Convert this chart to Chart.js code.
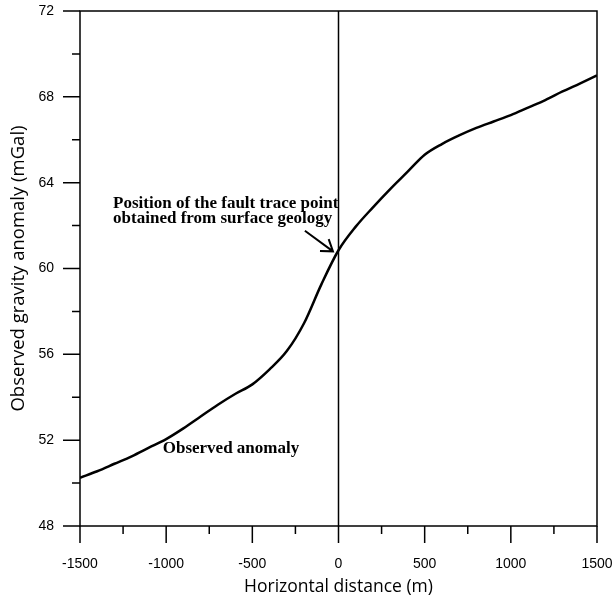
<!DOCTYPE html>
<html>
<head>
<meta charset="utf-8">
<script src="https://cdn.jsdelivr.net/npm/chart.js@4.4.1/dist/chart.umd.min.js"></script>
<style>
  html, body { margin: 0; padding: 0; background: #fff; }
  #wrap { width: 613px; height: 599px; }
</style>
</head>
<body>
<div id="wrap"><canvas id="chart"></canvas></div>
<script>
// horizontal distance (m) and observed gravity anomaly (mGal)
const distance = [-1500, -1400, -1300, -1200, -1100, -1000, -900, -800, -700, -600, -500,
  -400, -300, -200, -100, 0, 100, 200, 300, 400, 500, 600, 700, 800, 900, 1000,
  1100, 1200, 1300, 1400, 1500];
const anomaly = [50.25, 50.55, 50.9, 51.25, 51.65, 52.05, 52.55, 53.1, 53.65, 54.15, 54.6,
  55.3, 56.15, 57.45, 59.25, 60.85, 61.95, 62.85, 63.7, 64.5, 65.3, 65.8, 66.2, 66.55, 66.85, 67.15,
  67.5, 67.85, 68.25, 68.62, 69.0];

const faultX = 0;
const yRange = [48, 72];
const xRange = [-1500, 1500];

const faultText = ["Position of the fault trace point", "obtained from surface geology"];
const curveText = "Observed anomaly";

const points = distance.map((d, i) => ({ x: d, y: anomaly[i] }));

const decorations = {
  id: "decorations",
  afterDraw(chart) {
    const { ctx, chartArea: a, scales } = chart;
    const xs = scales.x, ys = scales.y;
    ctx.save();
    ctx.strokeStyle = "#000";
    ctx.lineWidth = 1.5;
    ctx.strokeRect(a.left, a.top, a.right - a.left, a.bottom - a.top);

    // ticks, outward: long on labelled values, short between
    ctx.beginPath();
    xs.ticks.forEach(t => {
      const px = xs.getPixelForValue(t.value);
      const len = t.value % 500 === 0 ? 17 : 8;
      ctx.moveTo(px, a.bottom);
      ctx.lineTo(px, a.bottom + len);
    });
    ys.ticks.forEach(t => {
      const py = ys.getPixelForValue(t.value);
      const len = t.value % 4 === 0 ? 17 : 8;
      ctx.moveTo(a.left, py);
      ctx.lineTo(a.left - len, py);
    });
    ctx.stroke();

    // labels
    ctx.fillStyle = "#000";
    ctx.font = "bold 17px 'Liberation Serif'";
    ctx.textBaseline = "alphabetic";
    ctx.textAlign = "left";
    const lx = xs.getPixelForValue(-1308);
    ctx.fillText(faultText[0], lx, ys.getPixelForValue(62.83));
    ctx.fillText(faultText[1], lx, ys.getPixelForValue(62.13));
    ctx.textAlign = "center";
    ctx.fillText(curveText, xs.getPixelForValue(-624), ys.getPixelForValue(51.4));

    // arrow to the fault trace point
    const x0 = xs.getPixelForValue(-195), y0 = ys.getPixelForValue(61.76);
    const x1 = xs.getPixelForValue(-32), y1 = ys.getPixelForValue(60.8);
    const ang = Math.atan2(y1 - y0, x1 - x0);
    ctx.lineWidth = 2;
    ctx.beginPath();
    ctx.moveTo(x0, y0);
    ctx.lineTo(x1, y1);
    ctx.moveTo(x1 - 13 * Math.cos(ang - 0.6), y1 - 13 * Math.sin(ang - 0.6));
    ctx.lineTo(x1, y1);
    ctx.lineTo(x1 - 13 * Math.cos(ang + 0.6), y1 - 13 * Math.sin(ang + 0.6));
    ctx.stroke();
    ctx.restore();
  }
};

new Chart(document.getElementById("chart"), {
  type: "scatter",
  data: {
    datasets: [
      {
        label: "Observed anomaly",
        data: points,
        showLine: true,
        borderColor: "#000",
        borderWidth: 2.5,
        pointRadius: 0,
        cubicInterpolationMode: "monotone",
        fill: false,
      },
      {
        label: "Fault trace",
        data: [{ x: faultX, y: yRange[0] }, { x: faultX, y: yRange[1] }],
        showLine: true,
        borderColor: "#000",
        borderWidth: 1.5,
        pointRadius: 0,
      },
    ],
  },
  options: {
    responsive: true,
    maintainAspectRatio: false,
    animation: false,
    layout: { padding: { top: 11, right: 16, left: 8, bottom: -2 } },
    plugins: {
      legend: { display: false },
      tooltip: { enabled: false },
    },
    scales: {
      x: {
        type: "linear",
        min: xRange[0],
        max: xRange[1],
        grid: { display: false },
        border: { display: false },
        afterFit: (s) => { s.height = 75; s.paddingLeft = 0; s.paddingRight = 0; },
        ticks: {
          stepSize: 250,
          padding: 22,
          color: "#000",
          font: { family: "'Liberation Sans'", size: 14 },
          maxRotation: 0,
          autoSkip: false,
          callback: (v) => (v % 500 === 0 ? String(v) : ""),
        },
        title: {
          display: true,
          text: "Horizontal distance (m)",
          color: "#000",
          font: { family: "'Open Sans'", size: 17.5 },
          padding: { top: 0, bottom: 3 },
        },
      },
      y: {
        type: "linear",
        min: yRange[0],
        max: yRange[1],
        grid: { display: false },
        border: { display: false },
        afterFit: (s) => { s.width = 72; s.paddingTop = 0; s.paddingBottom = 0; },
        ticks: {
          stepSize: 2,
          padding: 18,
          color: "#000",
          font: { family: "'Liberation Sans'", size: 14 },
          autoSkip: false,
          callback: (v) => (v % 4 === 0 ? String(v) : ""),
        },
        title: {
          display: true,
          text: "Observed gravity anomaly (mGal)",
          color: "#000",
          font: { family: "'Open Sans'", size: 18.5 },
          padding: { top: 0, bottom: 4 },
        },
      },
    },
  },
  plugins: [decorations],
});
</script>
</body>
</html>
